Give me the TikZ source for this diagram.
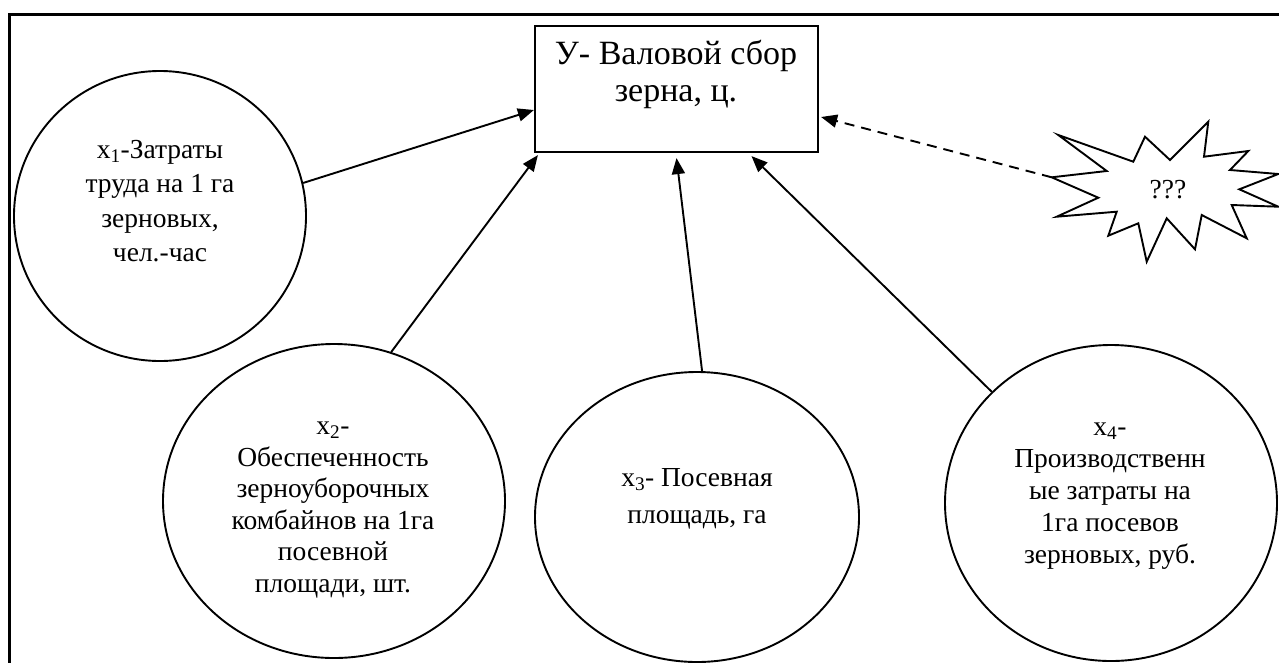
\documentclass[tikz,border=0pt]{standalone}
\usepackage{fontspec}
\setmainfont{Liberation Serif}
\usetikzlibrary{shapes.geometric,arrows.meta}
\begin{document}
\begin{tikzpicture}[x=1pt,y=-1pt,
  circ/.style={draw,ellipse,line width=1.9pt,inner sep=0pt},
  box/.style={draw,rectangle,line width=2.2pt,inner sep=0pt},
  ctext/.style={align=center,font=\fontsize{27.5}{32}\selectfont,inner sep=0pt},
  btext/.style={align=center,font=\fontsize{34}{37}\selectfont,inner sep=0pt},
  arr/.style={line width=1.9pt,-{Triangle[length=16pt,width=13pt]}},
  darr/.style={arr,dash pattern=on 10pt off 7pt}]
\useasboundingbox (0,0) rectangle (1279,662);
\clip (0,0) rectangle (1279,662);
\draw[line width=3pt] (9,14) rectangle (1300,700);

% main box
\node[box,minimum width=283pt,minimum height=126pt] (y) at (676.5,89) {};
\node[btext] (yt) at (676,74) {У- Валовой сбор\\зерна, ц.};

% factor circles
\node[circ,minimum width=292pt,minimum height=290pt] (c1) at (160,216) {};
\node[ctext,font=\fontsize{27.5}{34.5}\selectfont] (t1) at (160,201) {x\textsubscript{1}-Затраты\\труда на 1 га\\зерновых,\\чел.-час};

\node[circ,minimum width=342pt,minimum height=314pt] (c2) at (334,501) {};
\node[ctext,font=\fontsize{27.5}{31.6}\selectfont] (t2) at (333,510) {x\textsubscript{2}-\\Обеспеченность\\зерноуборочных\\комбайнов на 1га\\посевной\\площади, шт.};

\node[circ,minimum width=324pt,minimum height=290pt] (c3) at (697,517) {};
\node[ctext,font=\fontsize{27.5}{37}\selectfont] (t3) at (697,499) {x\textsubscript{3}- Посевная\\площадь, га};

\node[circ,minimum width=332pt,minimum height=316pt] (c4) at (1111,503) {};
\node[ctext] (t4) at (1110,496) {x\textsubscript{4}-\\Производственн\\ые затраты на\\1га посевов\\зерновых, руб.};

% star
\draw[line width=1.9pt,line join=miter]
  (1058.3,135) -- (1133.3,161.7) -- (1145,136.7) -- (1170,160) -- (1208.3,121.7)
  -- (1204,156.7) -- (1248.3,151) -- (1230,170) -- (1278.3,174) -- (1239.3,189.3)
  -- (1278.3,206.7) -- (1231.7,205) -- (1246.7,238.3) -- (1201.7,215) -- (1195,249.3)
  -- (1166.7,218.3) -- (1146.7,261.7) -- (1138.3,223.3) -- (1108.3,235.7) -- (1116.7,211.7)
  -- (1056.7,216.7) -- (1098.3,197.7) -- (1051.7,177.3) -- (1106.7,171) -- cycle;
\coordinate (s) at (1051.7,177.3);
\node[font=\fontsize{27.5}{32}\selectfont,inner sep=0pt] (q) at (1168,190) {???};

% connectors
\draw[arr] (c1.13) -- ([yshift=-21pt]y.west);
\draw[arr] (c2.69) -- ([xshift=4pt,yshift=-2pt]y.south west);
\draw[arr] (c3.88) -- ([yshift=-5pt]y.south);
\draw[arr] (c4.137) -- ([xshift=75pt,yshift=-3pt]y.south);
\draw[darr] (s) -- ([xshift=2pt,yshift=-28pt]y.east);
\end{tikzpicture}
\end{document}
